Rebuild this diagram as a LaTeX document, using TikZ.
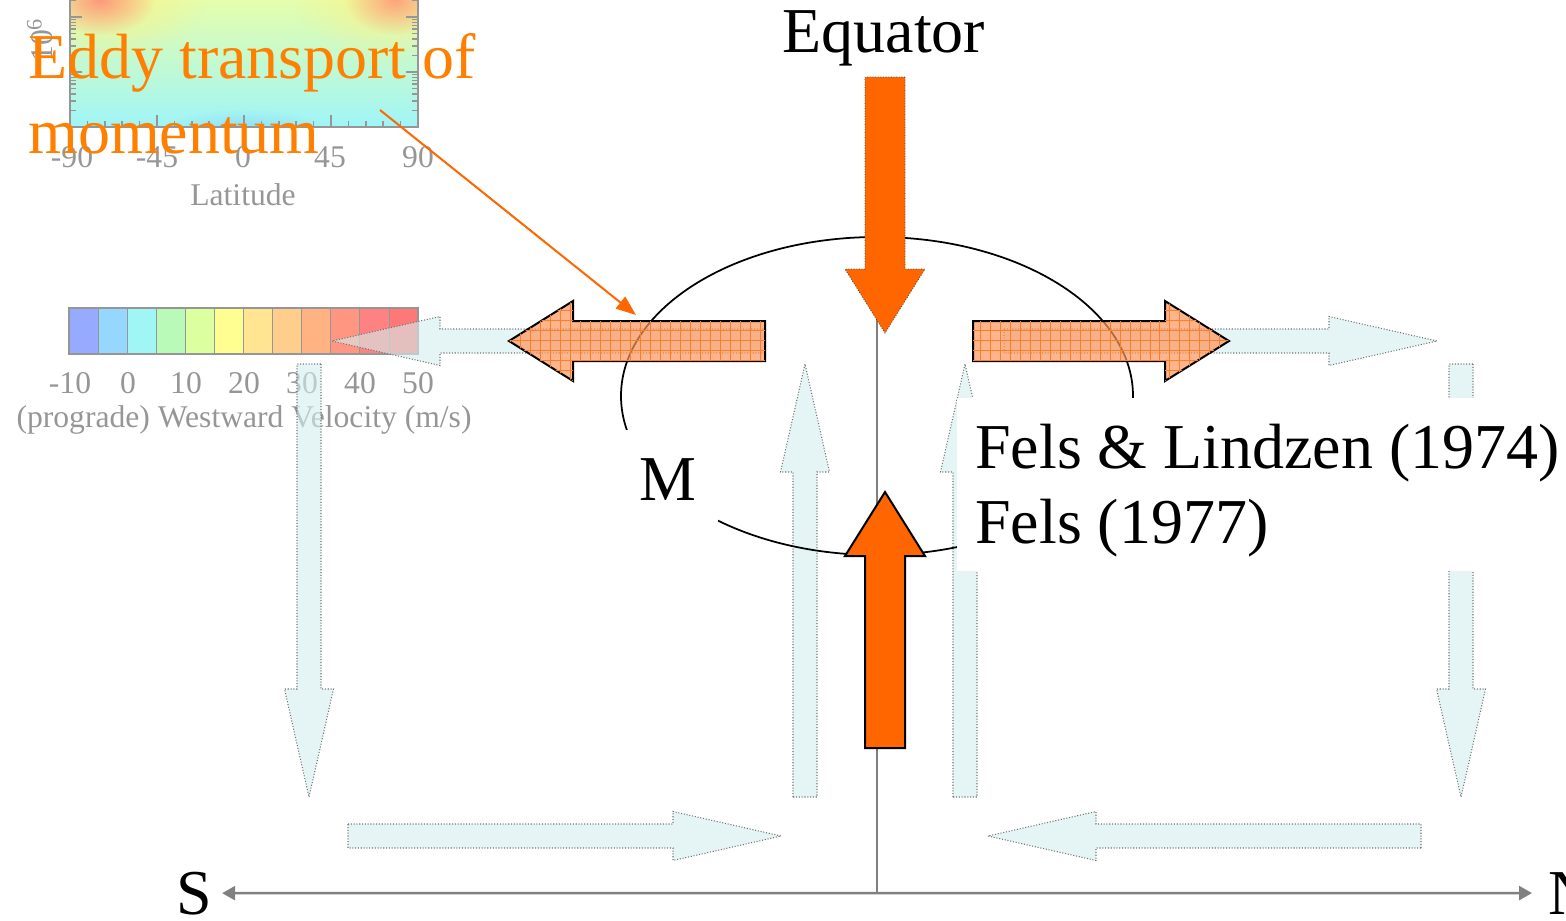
\documentclass[tikz,border=0pt]{standalone}
\usepackage{fontspec}
\setmainfont{Liberation Serif}
\usetikzlibrary{arrows.meta, positioning, fadings, patterns.meta}

\definecolor{solidorange}{RGB}{255,102,0}
\definecolor{eddyorange}{RGB}{255,128,0}
\definecolor{paleorange}{RGB}{255,150,90}
\definecolor{gridorange}{RGB}{255,125,40}
\definecolor{paleblue}{RGB}{212,238,238}
\definecolor{axisgray}{RGB}{128,128,128}
\definecolor{plotgray}{RGB}{150,150,150}
\definecolor{plottop}{RGB}{240,255,160}
\definecolor{plotmid}{RGB}{205,255,185}
\definecolor{plotbottom}{RGB}{160,245,248}
\definecolor{blobred}{RGB}{255,130,120}
\definecolor{blobyellow}{RGB}{255,240,130}
\definecolor{blobblue}{RGB}{130,205,255}

\tikzfading[name=blobfade, inner color=transparent!0, outer color=transparent!100]

% tail, angle, length, half shaft, half head, head length
\newcommand{\blockarrow}[7][]{%
  \path[#1, shift={#2}, rotate=#3] (0,-#5) -- (#4-#7,-#5) -- (#4-#7,-#6) -- (#4,0)
    -- (#4-#7,#6) -- (#4-#7,#5) -- (0,#5) -- cycle;}
\newcommand{\lightblock}[2]{\blockarrow[lightarrow]{#1}{#2}{433}{12}{24.5}{108}}
\newcommand{\heatblock}[3][]{\blockarrow[#1]{#2}{#3}{256}{20}{40}{64}}

\tikzset{
    bigtext/.style={font=\fontsize{36.4}{42.7}\selectfont, inner sep=0pt},
    plottext/.style={font=\fontsize{18}{21}\selectfont, text=plotgray, inner sep=0pt},
    plotframe/.style={draw=plotgray, line width=0.03cm},
    cellline/.style={draw=plotgray, line width=0.4pt},
    lightarrow/.style={draw=gray!90!black, densely dotted, line width=0.6pt, fill=paleblue, fill opacity=0.6},
    heatarrow/.style={draw=black, line width=0.04cm, fill=paleorange, fill opacity=0.7,
        postaction={pattern={Hatch[angle=0, distance=0.2cm, line width=0.3pt]}, pattern color=gridorange}},
    downarrow/.style={fill=solidorange, draw=gray!60!black, densely dotted, line width=0.5pt},
    uparrow/.style={fill=solidorange, draw=black, line width=0.04cm},
    cell/.style={draw=black, line width=0.035cm},
    eqline/.style={draw=axisgray, line width=0.03cm},
    axisline/.style={draw=axisgray, line width=0.05cm,
        {Triangle[length=0.26cm,width=0.28cm]}-{Triangle[length=0.26cm,width=0.28cm]}},
    pointer/.style={draw=solidorange, line width=0.04cm, -{Triangle[length=0.4cm,width=0.3cm]}}
}

\begin{document}
\begin{tikzpicture}[x=0.02cm, y=-0.02cm]
    \useasboundingbox (0,0) rectangle (1566,920);

    % Faded velocity plot
    \begin{scope}
        \clip (70,-20) rectangle (418,127);
        \shade[top color=plottop, middle color=plotmid, bottom color=plotbottom] (70,-20) rectangle (418,127);
        \fill[blobyellow, path fading=blobfade, fill opacity=0.8] (110,0) ellipse (95 and 60);
        \fill[blobyellow, path fading=blobfade, fill opacity=0.8] (390,0) ellipse (95 and 60);
        \fill[blobred, path fading=blobfade, fill opacity=0.8] (100,0) ellipse (55 and 35);
        \fill[blobred, path fading=blobfade, fill opacity=0.7] (395,0) ellipse (50 and 35);
        \fill[blobblue, path fading=blobfade, fill opacity=0.5] (245,127) ellipse (80 and 18);
    \end{scope}
    \draw[plotframe] (70,-20) rectangle (418,127);
    \foreach \x in {70,157,244,331,418}
        \draw[plotframe] (\x,127) -- ++(0,-12);
    \foreach \i in {1,...,19}
        \draw[plotframe] (70+17.4*\i,127) -- ++(0,-6);
    \foreach \d in {0,1,2} {
        \draw[plotframe] (70,127-55*\d) -- ++(12,0);
        \draw[plotframe] (418,127-55*\d) -- ++(-12,0);
        \foreach \k in {2,...,9} {
            \draw[plotframe] (70,{127-55*(\d+log10(\k))}) -- ++(6,0);
            \draw[plotframe] (418,{127-55*(\d+log10(\k))}) -- ++(-6,0);
        }
    }
    \node[plottext, rotate=90] (plotylabel) at (40,40) {10\textsuperscript{6}};
    \foreach \x/\t in {72/-90, 157/-45, 243/0, 330/45, 418/90}
        \node[plottext] (lat\t) at (\x,157) {\t};
    \node[plottext, below=0.3cm of lat0] (latitude) {Latitude};

    % Colour bar
    \foreach \r/\g/\b [count=\i from 0] in {150/170/255, 150/215/255, 160/245/245, 185/250/185,
            220/255/160, 255/255/145, 255/228/145, 255/205/140, 255/178/130, 255/150/130,
            255/130/130, 255/120/120} {
        \definecolor{cbcell}{RGB}{\r,\g,\b}
        \fill[cbcell] (69+29.083*\i,308) rectangle (98.083+29.083*\i,354);
    }
    \foreach \i in {1,...,11}
        \draw[cellline] (69+29.083*\i,308) -- ++(0,46);
    \draw[plotframe] (69,308) rectangle (418,354);
    \foreach \x/\t in {70/-10, 128/0, 186/10, 244/20, 302/30, 360/40, 418/50}
        \node[plottext] (cb\t) at (\x,383) {\t};
    \node[plottext, below=0.22cm of cb20] (cbtitle) {(prograde) Westward Velocity (m/s)};

    % Light circulation arrows
    \lightblock{(765,341)}{180}
    \lightblock{(1004,341)}{0}
    \lightblock{(309,364)}{-90}
    \lightblock{(1461,364)}{-90}
    \lightblock{(805,797)}{90}
    \lightblock{(965,797)}{90}
    \lightblock{(348,836)}{0}
    \lightblock{(1421,836)}{180}

    % Cell outline
    \draw[cell] (877,396) ellipse (256 and 159);
    \fill[white] (600,430) rectangle (718,526);
    \fill[white] (957,398) rectangle (1566,571);

    % Equator line
    \coordinate (eqtop) at (877,280);
    \coordinate (eqfoot) at (877,893);
    \draw[eqline] (eqtop) -- (eqfoot);

    % Orange arrows
    \heatblock[heatarrow]{(765,341)}{180}
    \heatblock[heatarrow]{(973,341)}{0}
    \heatblock[downarrow]{(885,77)}{-90}
    \heatblock[uparrow]{(885,748)}{90}

    % Labels
    \node[bigtext, anchor=base] (equator) at (884,52) {Equator};
    \node[bigtext, anchor=base] (mlabel) at (668,500) {M};
    \node[bigtext, anchor=north west, align=left] (fels) at (975,424) {Fels \& Lindzen (1974)\\Fels (1977)};
    \node[bigtext, anchor=north west, align=left, text=eddyorange] (eddy) at (28,33) {Eddy transport of\\momentum};
    \node[bigtext, anchor=base] (slabel) at (194,914) {S};
    \node[bigtext, anchor=base west] (nlabel) at (1548,914) {N};

    \coordinate (eddytail) at (380,110);
    \coordinate (eddytip) at (636,315);
    \draw[pointer] (eddytail) -- (eddytip);
    \draw[axisline] ([xshift=0.2cm]slabel.east) -- ([xshift=-0.32cm]nlabel.west);
\end{tikzpicture}
\end{document}
